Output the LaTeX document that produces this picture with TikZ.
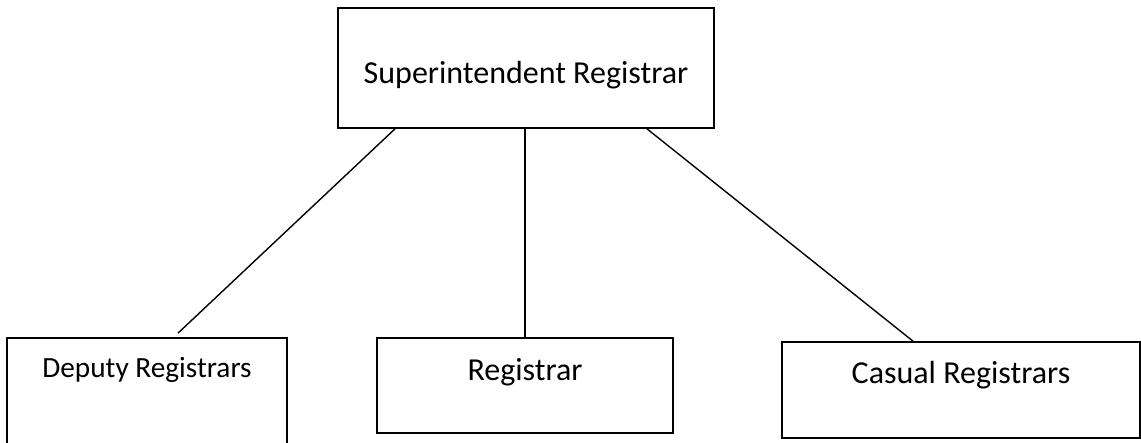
\documentclass[tikz,border=0pt]{standalone}
\usepackage{fontspec}
\setmainfont{Carlito}
\usetikzlibrary{positioning}

\begin{document}
\begin{tikzpicture}[x=1pt,y=-1pt,line width=1.4pt,
      post/.style={draw,rectangle,inner sep=0pt,line width=1.7pt,
        font=\fontsize{32}{38}\selectfont}]

    \useasboundingbox (0,0) rectangle (1141,442);

    \node[post,minimum width=376pt,text height=75pt,text depth=45pt,anchor=base]
      (sup) at (526,83) {Superintendent Registrar};
    \node[post,minimum width=280pt,text height=39pt,text depth=83pt,anchor=base,
      font=\fontsize{29.3}{35}\selectfont] (dep) at (147,377) {Deputy Registrars};
    \node[post,minimum width=296pt,text height=42pt,text depth=53pt,anchor=base]
      (reg) at (525,380) {Registrar};
    \node[post,minimum width=358pt,text height=41pt,text depth=55pt,anchor=base]
      (cas) at (961,383) {Casual Registrars};

    \draw ([xshift=-131pt]sup.south) -- ([xshift=31pt,yshift=4pt]dep.north);
    \draw (reg.north |- sup.south) -- (reg.north);
    \draw ([xshift=121pt]sup.south) -- ([xshift=-48pt]cas.north);
  \end{tikzpicture}
\end{document}
